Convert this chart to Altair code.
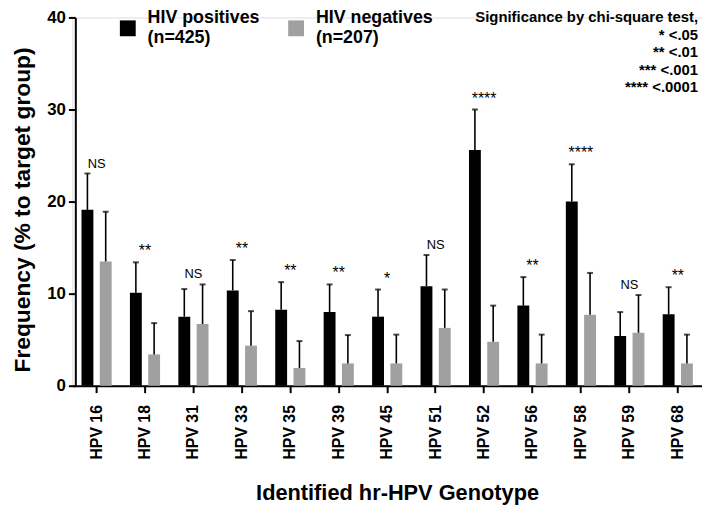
import altair as alt
import pandas as pd

genotypes = ["HPV 16", "HPV 18", "HPV 31", "HPV 33", "HPV 35", "HPV 39", "HPV 45",
             "HPV 51", "HPV 52", "HPV 56", "HPV 58", "HPV 59", "HPV 68"]
group_names = ["HIV positives", "HIV negatives"]
group_n = [425, 207]

pos_value = [19.1, 10.1, 7.5, 10.35, 8.25, 8.0, 7.5, 10.8, 25.6, 8.7, 20.0, 5.4, 7.75]
pos_upper = [23.05, 13.4, 10.5, 13.65, 11.25, 11.0, 10.45, 14.2, 30.0, 11.8, 24.05, 8.0, 10.7]
neg_value = [13.5, 3.4, 6.7, 4.35, 1.93, 2.42, 2.42, 6.28, 4.77, 2.42, 7.7, 5.75, 2.42]
neg_upper = [18.9, 6.8, 11.0, 8.1, 4.85, 5.5, 5.55, 10.45, 8.7, 5.55, 12.25, 9.85, 5.55]
significance = ["NS", "**", "NS", "**", "**", "**", "*", "NS", "****", "**", "****", "NS", "**"]

legend_notes = ["Significance by chi-square test,", "* <.05", "** <.01", "*** <.001", "**** <.0001"]

labels = [f"{g} (n={n})" for g, n in zip(group_names, group_n)]

rows = []
for i, g in enumerate(genotypes):
    rows.append({"genotype": g, "group": labels[0], "value": pos_value[i], "upper": pos_upper[i]})
    rows.append({"genotype": g, "group": labels[1], "value": neg_value[i], "upper": neg_upper[i]})
df = pd.DataFrame(rows)

sig_df = pd.DataFrame({
    "genotype": genotypes,
    "top": [max(a, b) for a, b in zip(pos_upper, neg_upper)],
    "sig": significance,
})

FONT = "Liberation Sans"
W, H = 636, 372

x_enc = alt.X(
    "genotype:N", sort=genotypes,
    scale=alt.Scale(paddingInner=0, paddingOuter=0),
    axis=alt.Axis(
        title="Identified hr-HPV Genotype", labelAngle=-90, labelFont=FONT,
        labelFontSize=16, labelFontWeight="bold", labelColor="black", labelPadding=12,
        tickSize=7, tickWidth=2, tickColor="black", domainColor="black", domainWidth=2,
        titleFont=FONT, titleFontSize=22, titleFontWeight="bold", titleColor="black",
        titleY=115, titleX=328, titleBaseline="alphabetic",
    ),
)
xoff_enc = alt.XOffset("group:N", sort=labels,
                       scale=alt.Scale(paddingInner=0.35, paddingOuter=0.5))
y_scale = alt.Scale(domain=[0, 40], nice=False)
y_enc = alt.Y(
    "value:Q", scale=y_scale,
    axis=alt.Axis(
        title="Frequency (% to target group)", values=[0, 10, 20, 30, 40], grid=False,
        labelFont=FONT, labelFontSize=17, labelFontWeight="bold", labelColor="black",
        labelPadding=3, tickSize=7, tickWidth=2, tickColor="black",
        domainColor="black", domainWidth=2, offset=-3,
        titleFont=FONT, titleFontSize=23, titleFontWeight="bold", titleColor="black",
        titleX=-46, titleY=194, titleBaseline="alphabetic",
    ),
)

base = alt.Chart(df)

bars = base.mark_bar().encode(
    x=x_enc, xOffset=xoff_enc, y=y_enc,
    color=alt.Color(
        "group:N", sort=labels,
        scale=alt.Scale(domain=labels, range=["#000000", "#a0a0a0"]),
        legend=alt.Legend(
            title=None, orient="none", legendX=47, legendY=2, direction="horizontal",
            symbolType="square", symbolSize=256, symbolStrokeWidth=0,
            labelFont=FONT, labelFontSize=18, labelFontWeight="bold", labelColor="black",
            labelOffset=11, labelLimit=300, columnPadding=27, padding=0,
            labelBaseline="line-bottom",
            labelExpr="split(replace(datum.label, ' (', '|('), '|')",
        ),
    ),
)

rules = base.mark_rule(color="black", strokeWidth=1.6).encode(
    x=alt.X("genotype:N", sort=genotypes), xOffset=xoff_enc,
    y=alt.Y("value:Q", scale=y_scale), y2="upper:Q",
)

caps = base.mark_tick(color="black", orient="horizontal", size=6, thickness=2).encode(
    x=alt.X("genotype:N", sort=genotypes), xOffset=xoff_enc,
    y=alt.Y("upper:Q", scale=y_scale),
)

sig_text = alt.Chart(sig_df).mark_text(
    font=FONT, color="black", baseline="alphabetic", dy=-6,
).encode(
    x=alt.X("genotype:N", sort=genotypes),
    y=alt.Y("top:Q", scale=y_scale),
    text="sig:N",
    size=alt.condition(alt.datum.sig == "NS", alt.value(13), alt.value(16)),
)

notes = alt.Chart(pd.DataFrame({"k": [0]})).mark_text(
    text=legend_notes, font=FONT, fontSize=15, fontWeight="bold", color="black",
    align="right", baseline="middle", lineHeight=17.7,
).encode(x=alt.value(632), y=alt.value(0))

chart = alt.layer(bars, rules, caps, sig_text, notes).properties(
    width=W, height=H,
    autosize=alt.AutoSizeParams(type="none"),
    padding={"left": 65, "top": 7, "right": 0, "bottom": 122},
).configure_view(stroke="transparent").configure(
    style={"guide-label": {"lineHeight": 20}}
)

chart.save("out.html", embed_options={"renderer": "svg", "actions": False})
